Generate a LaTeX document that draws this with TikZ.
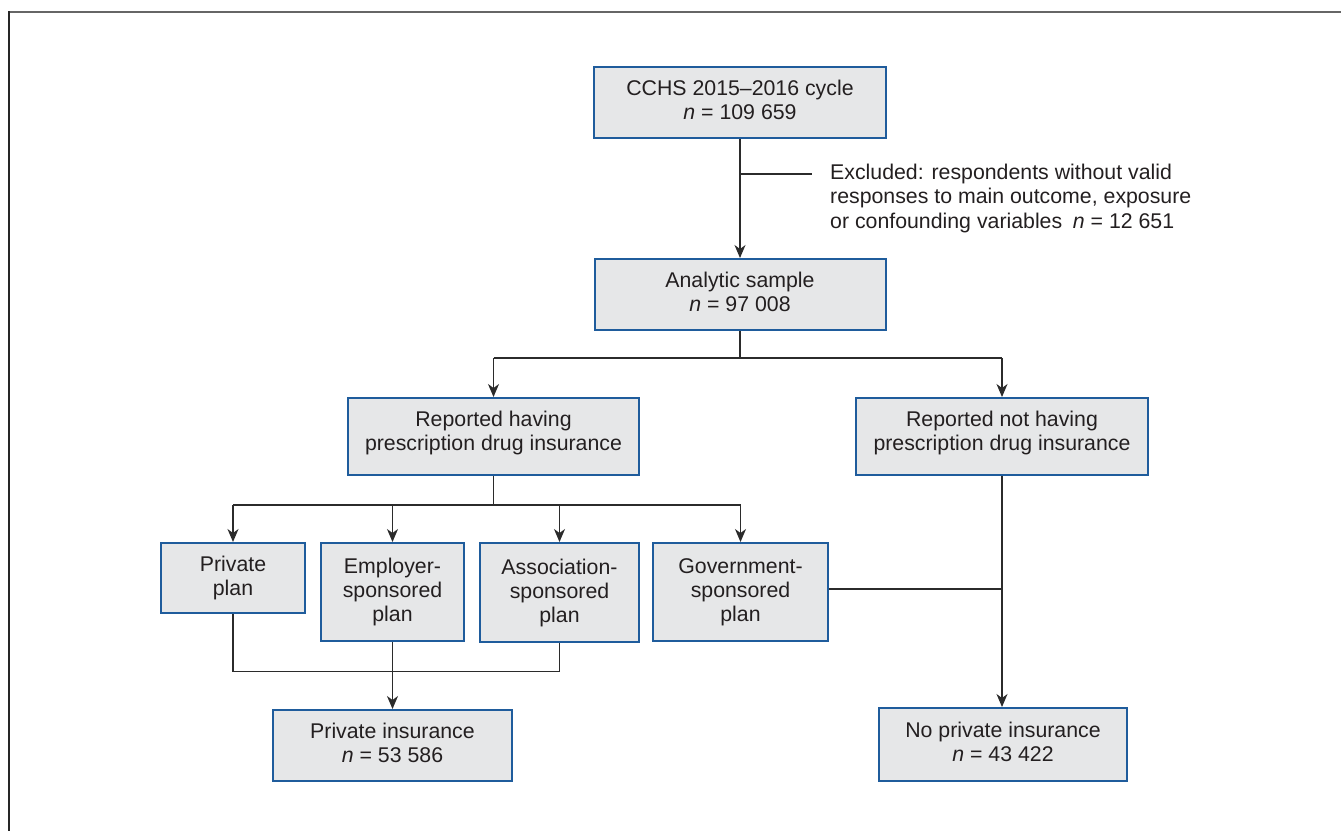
\documentclass[tikz,border=0pt]{standalone}
\usepackage{fontspec}
\setmainfont{Liberation Sans}
\usetikzlibrary{arrows.meta}
\definecolor{boxfill}{HTML}{E6E7E8}
\definecolor{boxedge}{HTML}{1F5C9C}
\definecolor{ink}{HTML}{231F20}
\definecolor{wirecol}{HTML}{2B2B2B}
\begin{document}
\begin{tikzpicture}[x=1pt,y=-1pt,
  box/.style={draw=boxedge, line width=2pt, fill=boxfill, inner sep=0pt, align=center,
    text=ink, font=\fontsize{21.3}{24}\selectfont},
  twoline/.style={text depth=6pt},
  twolinep/.style={text depth=10.5pt},
  wire/.style={draw=wirecol, line width=1.3pt},
  arr/.style={wire, -{Stealth[length=13pt,width=11pt,inset=4pt]}}]
\useasboundingbox (0,0) rectangle (1341,831);
\draw[line width=2.5pt, draw=black!60] (8,12) -- (1341,12);
\draw[line width=2pt, draw=black!85] (8.5,11) -- (8.5,831);

\node[box, twoline, minimum width=292pt, minimum height=71pt] (cchs) at (740,102.5)
  {CCHS 2015--2016 cycle\\\textit{n} = 109 659};
\node[box, twoline, minimum width=291pt, minimum height=71pt] (analytic) at (740,294.5)
  {Analytic sample\\\textit{n} = 97 008};
\node[box, twolinep, minimum width=291pt, minimum height=77pt] (have) at (493.5,436.5)
  {Reported having\\prescription drug insurance};
\node[box, twolinep, minimum width=292pt, minimum height=77pt] (nothave) at (1002,436.5)
  {Reported not having\\prescription drug insurance};
\node[box, minimum width=144pt, minimum height=70pt] (private) at (233,578)
  {Private\\plan};
\node[box, minimum width=143pt, minimum height=98pt] (employer) at (392.5,592)
  {Employer-\\sponsored\\plan};
\node[box, minimum width=159pt, minimum height=99pt] (assoc) at (559.5,592.5)
  {Association-\\sponsored\\plan};
\node[box, minimum width=175pt, minimum height=98pt] (gov) at (740.5,592)
  {Government-\\sponsored\\plan};
\node[box, twoline, minimum width=239pt, minimum height=71pt] (privins) at (392.5,745.5)
  {Private insurance\\\textit{n} = 53 586};
\node[box, twoline, minimum width=248pt, minimum height=73pt] (noprivins) at (1003,744.5)
  {No private insurance\\\textit{n} = 43 422};

\node[anchor=west, align=left, inner sep=0pt, text=ink, font=\fontsize{21.3}{24.5}\selectfont]
  (exc) at (830,198)
  {Excluded: respondents without valid\\responses to main outcome, exposure\\or confounding variables\enspace\textit{n} = 12 651};

% top flow
\draw[arr] (cchs.south) -- (analytic.north);
\coordinate (excj) at (740,174);
\coordinate (excend) at (812,174);
\draw[wire] (excj) -- (excend);

% analytic split
\coordinate (split1) at (740,358);
\draw[wire] (analytic.south) -- (split1);
\draw[wire] (have.north |- split1) -- (nothave.north |- split1);
\draw[arr] (have.north |- split1) -- (have.north);
\draw[arr] (nothave.north |- split1) -- (nothave.north);

% have split
\coordinate (split2) at (493.5,505);
\draw[wire] (have.south) -- (split2);
\draw[wire] (private.north |- split2) -- (gov.north |- split2);
\draw[arr] (private.north |- split2) -- (private.north);
\draw[arr] (employer.north |- split2) -- (employer.north);
\draw[arr] (assoc.north |- split2) -- (assoc.north);
\draw[arr] (gov.north |- split2) -- (gov.north);

% private merge
\coordinate (merge) at (392.5,671.5);
\draw[wire] (private.south) -- (private.south |- merge) -- (assoc.south |- merge) -- (assoc.south);
\draw[arr] (employer.south) -- (privins.north);

% no private
\coordinate (govout) at ([yshift=3pt]gov.east);
\coordinate (nojoin) at (nothave.south |- govout);
\draw[wire] (govout) -- (nojoin);
\draw[arr] (nothave.south) -- (nothave.south |- noprivins.north);
\end{tikzpicture}
\end{document}
